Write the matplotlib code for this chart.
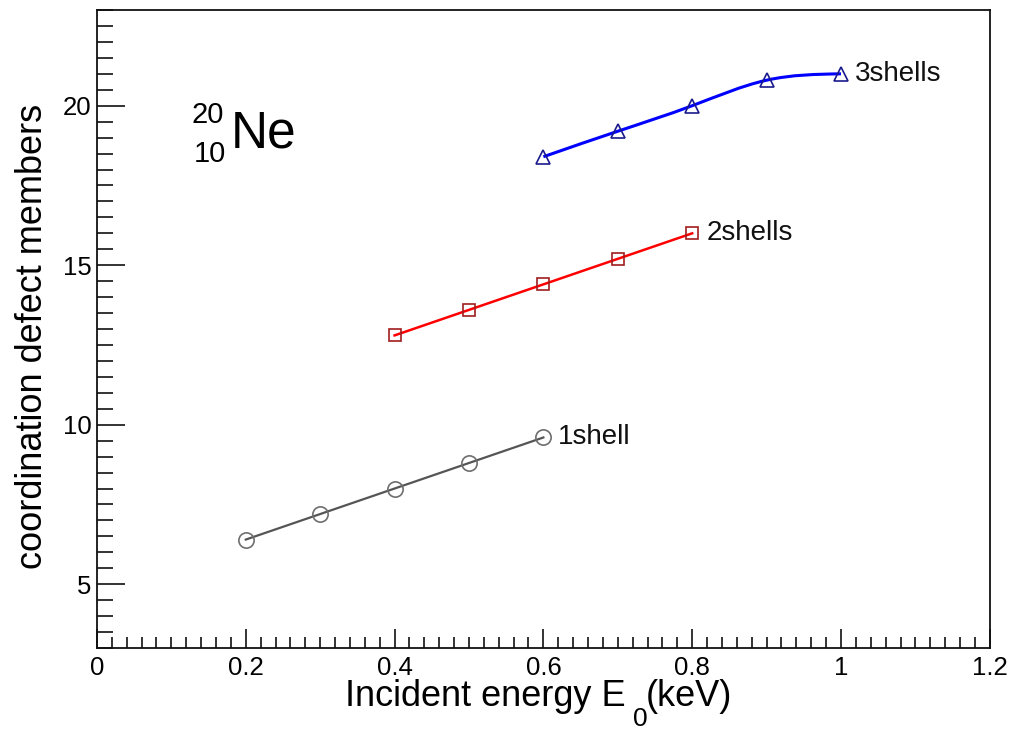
import matplotlib
matplotlib.use("Agg")
import matplotlib.pyplot as plt
import numpy as np
from matplotlib.path import Path
from matplotlib.patches import PathPatch
from matplotlib.ticker import MultipleLocator

plt.rcParams['font.family'] = ['Liberation Sans', 'DejaVu Sans']

# incident energy (keV) and coordination defect members per shell count
e_1shell = [0.2, 0.3, 0.4, 0.5, 0.6]
n_1shell = [6.4, 7.2, 8.0, 8.8, 9.6]

e_2shells = [0.4, 0.5, 0.6, 0.7, 0.8]
n_2shells = [12.8, 13.6, 14.4, 15.2, 16.0]

e_3shells = [0.6, 0.7, 0.8, 0.9, 1.0]
n_3shells = [18.4, 19.2, 20.0, 20.8, 21.0]

labels = ['1shell', '2shells', '3shells']


def smooth_path(x, y):
    # natural cubic spline through the points, drawn as bezier segments
    x = np.asarray(x, float)
    y = np.asarray(y, float)
    n = len(x)
    h = np.diff(x)
    A = np.zeros((n, n))
    b = np.zeros(n)
    A[0, 0], A[0, 1] = 2 / h[0], 1 / h[0]
    b[0] = 3 * (y[1] - y[0]) / h[0] ** 2
    for i in range(1, n - 1):
        A[i, i - 1] = 1 / h[i - 1]
        A[i, i] = 2 / h[i - 1] + 2 / h[i]
        A[i, i + 1] = 1 / h[i]
        b[i] = 3 * ((y[i] - y[i - 1]) / h[i - 1] ** 2 + (y[i + 1] - y[i]) / h[i] ** 2)
    A[-1, -2], A[-1, -1] = 1 / h[-1], 2 / h[-1]
    b[-1] = 3 * (y[-1] - y[-2]) / h[-1] ** 2
    m = np.linalg.solve(A, b)
    verts = [(x[0], y[0])]
    codes = [Path.MOVETO]
    for i in range(n - 1):
        verts += [(x[i] + h[i] / 3, y[i] + m[i] * h[i] / 3),
                  (x[i + 1] - h[i] / 3, y[i + 1] - m[i + 1] * h[i] / 3),
                  (x[i + 1], y[i + 1])]
        codes += [Path.CURVE4] * 3
    return Path(verts, codes)


fig = plt.figure(figsize=(10.1, 7.31), dpi=100)
ax = fig.add_axes([0.096, 0.1135, 0.884, 0.8728])

# 1 shell
ax.plot(e_1shell, n_1shell, color='#555555', lw=1.6, zorder=2)
ax.plot(e_1shell, n_1shell, ls='none', marker='o', ms=11, mfc='none',
        mec='#6e6e6e', mew=1.2, zorder=3)

# 2 shells
ax.plot(e_2shells, n_2shells, color='#ff0000', lw=1.8, zorder=2)
ax.plot(e_2shells, n_2shells, ls='none', marker='s', ms=8, mfc='none',
        mec='#a01c1c', mew=1.2, zorder=3)

# 3 shells, smooth curve
ax.add_patch(PathPatch(smooth_path(e_3shells, n_3shells), fill=False,
                       edgecolor='#0000ff', lw=2.2, zorder=2))
ax.plot(e_3shells, n_3shells, ls='none', marker='^', ms=10, mfc='none',
        mec='#1a1a8c', mew=1.2, zorder=3)

for xs, ys, lab in [(e_1shell, n_1shell, labels[0]),
                    (e_2shells, n_2shells, labels[1]),
                    (e_3shells, n_3shells, labels[2])]:
    ax.annotate(lab, xy=(xs[-1], ys[-1]), xytext=(14, 0),
                textcoords='offset pixels', va='center', ha='left',
                fontsize=20, color='#111111')

ax.set_xlim(0, 1.2)
ax.set_ylim(3.0, 23.0)
ax.xaxis.set_major_locator(MultipleLocator(0.2))
ax.xaxis.set_minor_locator(MultipleLocator(0.02))
ax.yaxis.set_major_locator(MultipleLocator(5))
ax.yaxis.set_minor_locator(MultipleLocator(0.5))
ax.xaxis.set_major_formatter(lambda v, p: f'{v:g}')

ax.tick_params(axis='both', which='both', direction='in', top=False,
               right=False, width=1.2, color='#111111', labelsize=18.5)
ax.tick_params(axis='x', which='major', length=13.7, pad=6)
ax.tick_params(axis='x', which='minor', length=7.7)
ax.tick_params(axis='y', which='major', length=20, pad=4)
ax.tick_params(axis='y', which='minor', length=11.5)
for s in ax.spines.values():
    s.set_linewidth(1.3)
    s.set_color('#111111')

# isotope tag
ax.text(0.106, 0.823, '20', transform=ax.transAxes, fontsize=21,
        ha='left', va='baseline')
ax.text(0.108, 0.762, '10', transform=ax.transAxes, fontsize=21,
        ha='left', va='baseline')
ax.text(0.150, 0.785, 'Ne', transform=ax.transAxes, fontsize=37,
        ha='left', va='baseline')

# axis titles
fig.text(33 / 1010, 0.540, 'coordination defect members', rotation=90,
         fontsize=26, ha='center', va='center')
t1 = fig.text(345 / 1010, 1 - 706 / 731, 'Incident energy E', fontsize=26,
              ha='left', va='baseline')
t2 = ax.annotate('0', xy=(1, 0), xycoords=t1, xytext=(5, -12),
                 textcoords='offset points', fontsize=19, ha='left',
                 va='bottom', annotation_clip=False)
ax.annotate('(keV)', xy=(1, 0), xycoords=(t2, t1), xytext=(-1, 0),
            textcoords='offset points', fontsize=26, ha='left', va='bottom',
            annotation_clip=False)

fig.savefig('out.png', dpi=100)
